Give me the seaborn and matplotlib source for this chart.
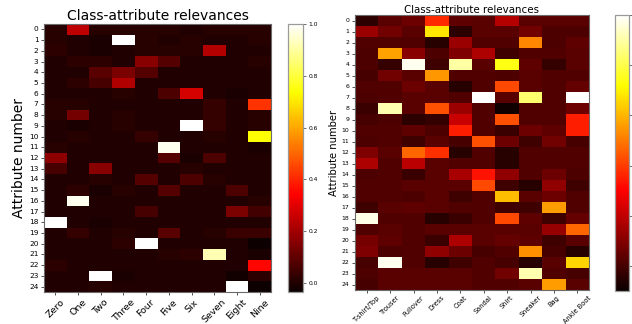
import matplotlib
matplotlib.use("Agg")
import matplotlib.pyplot as plt
import numpy as np
import pandas as pd
import seaborn as sns

# Class names for the two datasets
digit_classes = ["Zero", "One", "Two", "Three", "Four", "Five", "Six", "Seven", "Eight", "Nine"]
fashion_classes = ["T-shirt/Top", "Trouser", "Pullover", "Dress", "Coat",
                   "Sandal", "Shirt", "Sneaker", "Bag", "Ankle Boot"]
attribute_ids = [str(i) for i in range(25)]

# Relevance of each attribute (rows) for each digit class (columns)
digit_relevance = [
    [0.01, 0.24, 0.01, 0.01, 0.01, 0.01, 0.00, 0.01, 0.01, 0.01],
    [0.01, 0.00, -0.01, 1.00, 0.01, 0.00, 0.01, 0.00, 0.00, 0.01],
    [0.02, 0.00, -0.01, 0.00, 0.01, 0.01, 0.01, 0.23, 0.00, 0.00],
    [0.00, 0.02, 0.02, 0.00, 0.16, 0.08, 0.00, 0.00, 0.00, 0.01],
    [0.00, 0.00, 0.09, 0.14, 0.08, 0.00, 0.00, 0.00, 0.00, 0.00],
    [0.00, 0.02, 0.06, 0.22, 0.00, 0.00, 0.00, 0.00, 0.00, 0.00],
    [0.00, 0.00, 0.00, 0.01, 0.00, 0.07, 0.28, 0.00, -0.01, 0.00],
    [0.01, 0.01, 0.00, 0.00, 0.00, 0.00, 0.00, 0.03, 0.00, 0.42],
    [0.01, 0.13, 0.00, 0.01, 0.00, 0.00, 0.00, 0.03, 0.00, 0.01],
    [0.00, -0.01, 0.00, 0.01, 0.00, 0.00, 1.00, 0.03, 0.00, 0.01],
    [0.00, 0.01, 0.00, 0.00, 0.03, 0.00, 0.00, 0.01, 0.00, 0.74],
    [0.01, 0.00, 0.00, 0.00, 0.00, 0.98, 0.00, 0.00, 0.00, -0.01],
    [0.17, 0.00, 0.00, 0.00, 0.00, 0.08, -0.01, 0.07, 0.00, 0.00],
    [0.06, 0.00, 0.16, 0.00, 0.00, 0.00, 0.01, 0.00, 0.00, 0.00],
    [0.00, 0.00, 0.01, 0.00, 0.08, 0.00, 0.07, 0.01, 0.00, 0.00],
    [0.00, 0.02, -0.01, 0.01, 0.00, 0.08, 0.00, 0.00, 0.07, 0.00],
    [0.00, 0.98, 0.00, 0.00, 0.00, 0.00, 0.00, 0.00, 0.00, 0.01],
    [0.00, 0.00, 0.00, 0.00, 0.06, 0.00, 0.00, 0.00, 0.14, 0.05],
    [1.00, 0.00, -0.01, 0.00, 0.00, 0.00, 0.00, 0.00, 0.00, 0.00],
    [0.00, 0.03, 0.00, 0.01, 0.00, 0.09, 0.00, 0.01, 0.04, 0.04],
    [0.00, 0.00, 0.00, 0.02, 1.00, 0.00, 0.00, 0.00, 0.00, -0.03],
    [0.00, 0.00, 0.00, 0.00, 0.00, 0.01, 0.02, 0.92, 0.00, -0.01],
    [0.02, 0.00, 0.00, 0.00, 0.00, 0.00, 0.00, 0.00, 0.00, 0.35],
    [0.00, 0.00, 1.00, -0.01, 0.00, 0.00, 0.00, 0.00, -0.02, 0.02],
    [0.00, 0.00, 0.01, 0.00, 0.00, 0.00, 0.00, 0.00, 1.00, -0.03],
]

# Relevance of each attribute (rows) for each clothing class (columns)
fashion_relevance = [
    [-0.04, 0.03, 0.06, 0.37, 0.04, 0.03, 0.18, 0.03, 0.03, 0.03],
    [0.14, 0.07, 0.03, 0.68, -0.04, 0.03, 0.03, 0.07, 0.01, 0.01],
    [0.02, 0.02, 0.02, -0.05, 0.14, 0.02, 0.02, 0.52, 0.01, 0.04],
    [0.01, 0.57, 0.11, 0.01, 0.09, 0.17, -0.01, 0.02, 0.02, 0.03],
    [0.01, -0.03, 0.98, -0.01, 0.90, 0.03, 0.74, 0.04, -0.03, 0.03],
    [0.00, 0.07, 0.03, 0.55, 0.02, 0.02, 0.01, 0.03, 0.02, 0.02],
    [0.02, 0.02, 0.06, 0.03, -0.05, 0.02, 0.42, 0.03, 0.02, 0.05],
    [0.01, 0.02, 0.03, 0.03, 0.02, 1.00, 0.03, 0.84, 0.02, 1.00],
    [-0.02, 0.91, 0.03, 0.43, 0.14, 0.02, -0.09, 0.02, 0.02, 0.06],
    [0.00, 0.01, -0.04, -0.03, 0.21, 0.02, 0.43, 0.02, 0.02, 0.35],
    [0.02, 0.02, 0.04, 0.01, 0.35, 0.02, -0.02, 0.06, 0.04, 0.35],
    [0.01, 0.02, -0.01, 0.03, 0.00, 0.43, 0.06, -0.01, 0.07, 0.00],
    [0.09, 0.03, 0.47, 0.38, -0.05, 0.02, -0.05, 0.02, 0.02, 0.02],
    [0.17, 0.02, 0.19, 0.03, 0.02, 0.02, -0.05, 0.02, 0.02, 0.02],
    [0.01, 0.02, -0.02, 0.03, 0.16, 0.33, 0.12, 0.02, 0.06, 0.01],
    [0.02, 0.02, 0.03, 0.03, 0.03, 0.42, -0.01, -0.05, 0.12, -0.01],
    [0.02, 0.02, 0.01, 0.03, -0.01, 0.02, 0.61, 0.03, 0.06, 0.02],
    [-0.01, 0.03, 0.04, 0.03, 0.02, 0.02, -0.01, -0.01, 0.56, 0.02],
    [0.97, 0.02, 0.02, -0.05, -0.02, 0.02, 0.42, 0.04, -0.01, 0.05],
    [0.02, 0.03, 0.02, 0.03, 0.03, 0.03, 0.03, 0.03, 0.13, 0.47],
    [0.08, 0.04, 0.02, -0.02, 0.17, 0.03, 0.05, 0.04, -0.01, 0.03],
    [0.09, 0.01, 0.02, 0.12, 0.06, 0.00, 0.02, 0.54, 0.00, -0.05],
    [0.00, 0.98, 0.02, -0.05, -0.01, 0.02, 0.00, -0.05, 0.03, 0.65],
    [0.01, 0.03, 0.03, 0.03, 0.03, 0.02, 0.07, 0.91, 0.02, 0.00],
    [0.00, 0.03, 0.03, 0.03, 0.03, 0.02, 0.02, 0.03, 0.56, 0.03],
]

cbar_ticks = [0.0, 0.2, 0.4, 0.6, 0.8, 1.0]

digit_df = pd.DataFrame(digit_relevance, index=attribute_ids, columns=digit_classes)
fashion_df = pd.DataFrame(fashion_relevance, index=attribute_ids, columns=fashion_classes)

W, H = 632, 324
fig = plt.figure(figsize=(W / 100, H / 100), dpi=100)


def frac(x0, y0, x1, y1):
    return [x0 / W, 1 - y1 / H, (x1 - x0) / W, (y1 - y0) / H]


ax1 = fig.add_axes(frac(44, 24, 271, 292))
cax1 = fig.add_axes(frac(288, 24, 303, 292))
ax2 = fig.add_axes(frac(355, 15, 589, 290))
cax2 = fig.add_axes(frac(615, 15, 629, 291))

edge = "#6b6b6b"

panels = [
    (ax1, cax1, digit_df, -0.035, 1.0, 10, 10, 6.8, 5.3, 4.3, 3.0, True, 1.5),
    (ax2, cax2, fashion_df, -0.10, 1.0, 7.4, 7.2, 4.8, 4.4, 4.3, 1.5, False, 0.8),
]

for (ax, cax, df, vmin, vmax, title_fs, ylab_fs, xt_fs, yt_fs, cb_fs, pad,
     cb_labels, xpad) in panels:
    sns.heatmap(df, cmap="hot", vmin=vmin, vmax=vmax, ax=ax, cbar_ax=cax,
                xticklabels=True, yticklabels=True,
                cbar_kws={"ticks": cbar_ticks})
    ax.set_title("Class-attribute relevances", fontsize=title_fs, pad=pad)
    ax.set_ylabel("Attribute number", fontsize=ylab_fs, labelpad=2)
    ax.set_xlabel("")
    plt.setp(ax.get_xticklabels(), rotation=45, ha="center", fontsize=xt_fs)
    plt.setp(ax.get_yticklabels(), rotation=0, fontsize=yt_fs)
    ax.tick_params(length=2.5, width=0.6, pad=1.5, color="#333333")
    ax.tick_params(axis="x", pad=xpad)
    for s in ax.spines.values():
        s.set_visible(True)
        s.set_color(edge)
        s.set_linewidth(0.8)
    cax.tick_params(labelsize=cb_fs, length=2.5, width=0.6, pad=1.5,
                    color="#555555", labelright=cb_labels)
    cbar = ax.collections[0].colorbar
    cbar.outline.set_edgecolor("#9a9a9a")
    cbar.outline.set_linewidth(0.9)

fig.savefig("out.png", dpi=100)
